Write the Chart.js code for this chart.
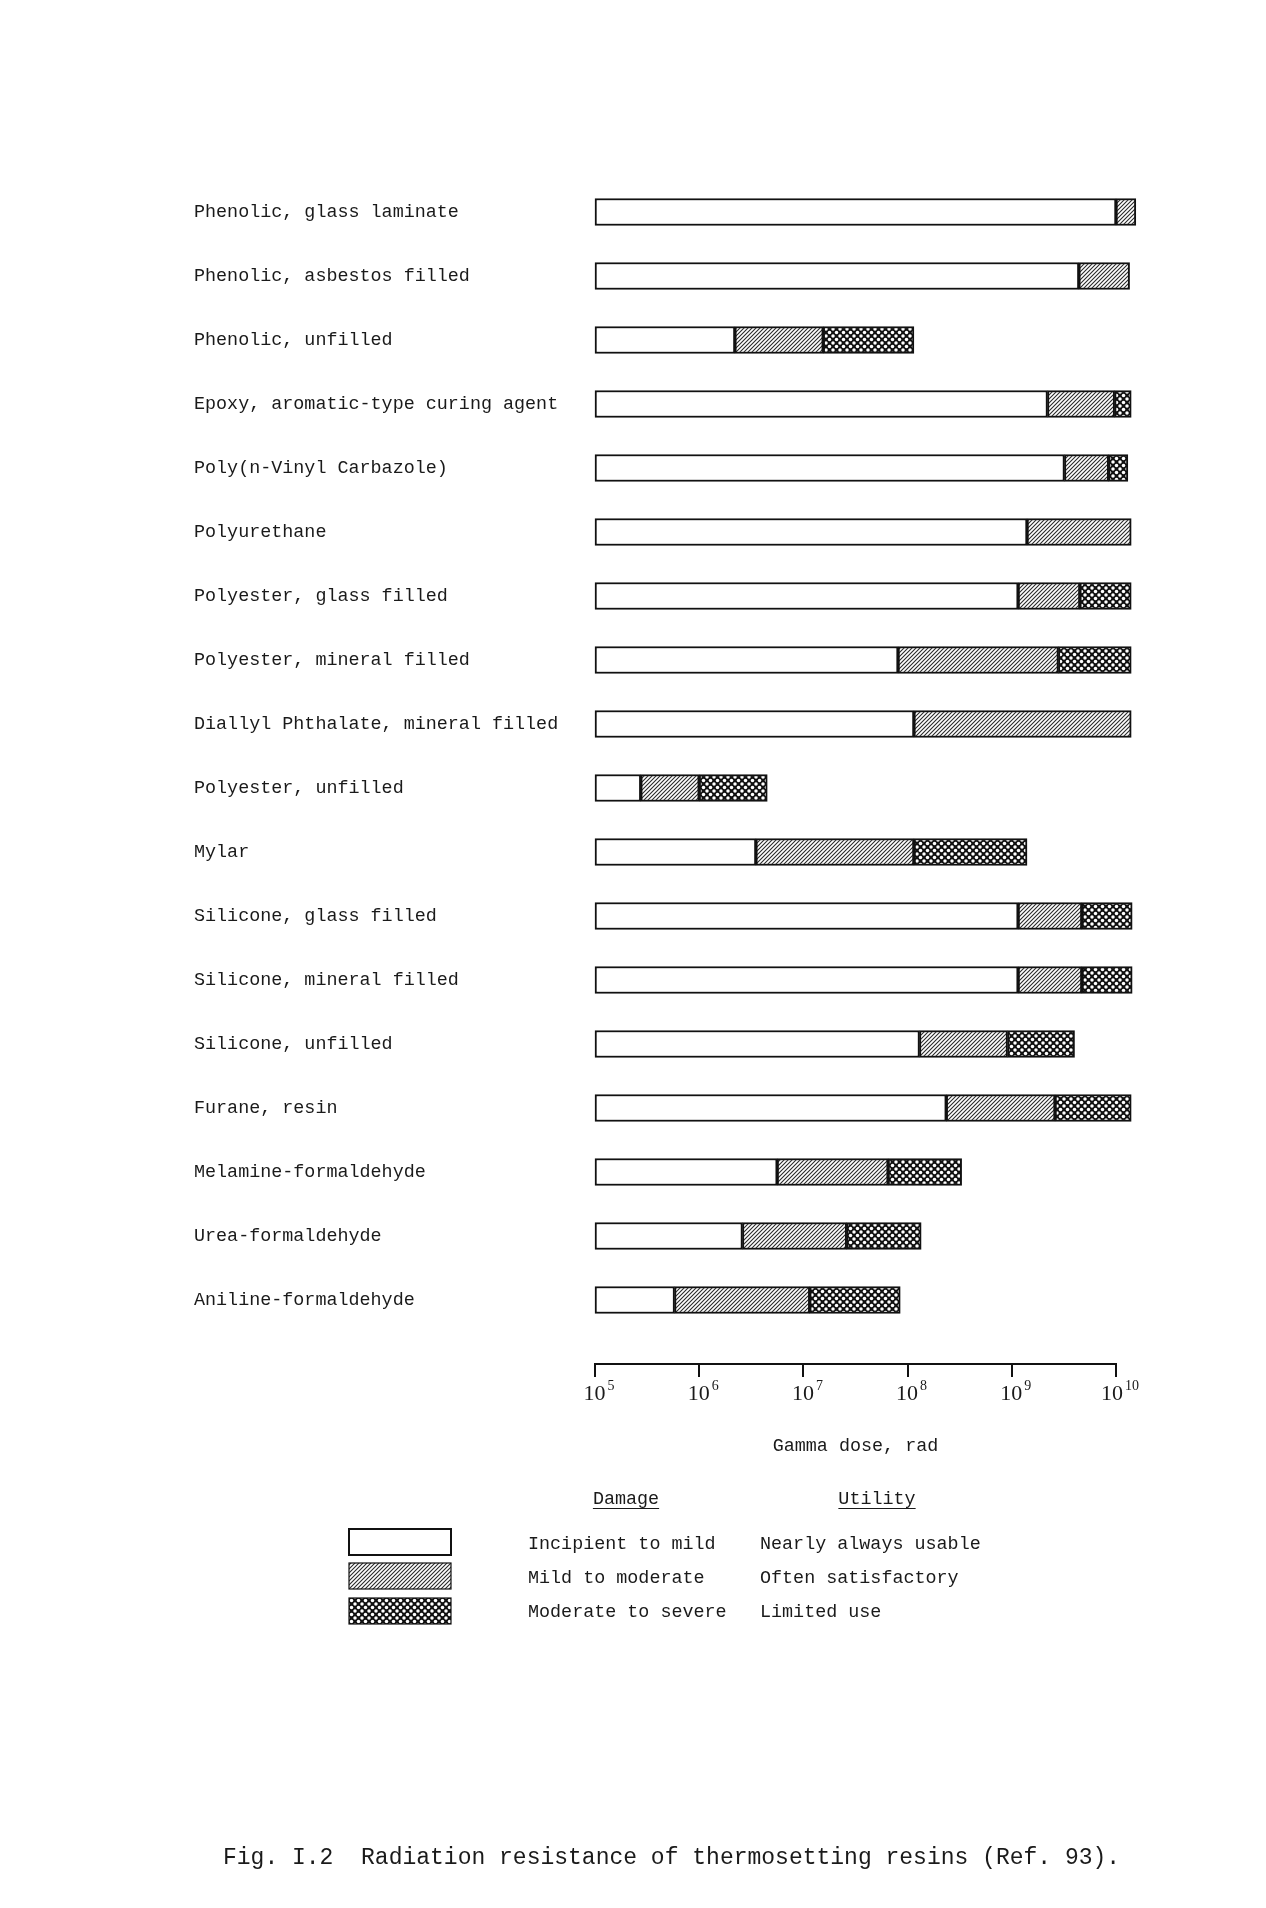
<!DOCTYPE html>
<html>
<head>
<meta charset="utf-8">
<script src="https://cdn.jsdelivr.net/npm/chart.js@4.4.1/dist/chart.umd.min.js"></script>
<style>
  body { margin: 0; background: #fff; }
  #wrap { position: relative; width: 1266px; height: 1908px; }
  #chart { position: absolute; left: 0; top: 0; }
  .txt { position: absolute; font-family: "Liberation Mono", monospace; font-size: 18.4px; color: #1a1a1a; line-height: 20px; white-space: pre; }
  .head { text-decoration: underline; text-underline-offset: 4px; transform: translateX(-50%); }
  .sw { position: absolute; }
  #caption { position: absolute; left: 223px; top: 1845px; font-family: "Liberation Mono", monospace; font-size: 23px; color: #1a1a1a; white-space: pre; }
</style>
</head>
<body>
<div id="wrap">
  <canvas id="chart" width="1266" height="1908"></canvas>

  <canvas class="sw" id="sw0" width="104" height="28" style="left:348px;top:1528px"></canvas>
  <canvas class="sw" id="sw1" width="104" height="28" style="left:348px;top:1562px"></canvas>
  <canvas class="sw" id="sw2" width="104" height="28" style="left:348px;top:1597px"></canvas>

  <div class="txt head" style="left:626px;top:1490px">Damage</div>
  <div class="txt head" style="left:877px;top:1490px">Utility</div>
  <div class="txt" style="left:528px;top:1535px">Incipient to mild</div>
  <div class="txt" style="left:528px;top:1569px">Mild to moderate</div>
  <div class="txt" style="left:528px;top:1603px">Moderate to severe</div>
  <div class="txt" style="left:760px;top:1535px">Nearly always usable</div>
  <div class="txt" style="left:760px;top:1569px">Often satisfactory</div>
  <div class="txt" style="left:760px;top:1603px">Limited use</div>

  <div id="caption">Fig. I.2  Radiation resistance of thermosetting resins (Ref. 93).</div>
</div>

<script>
// materials, top to bottom
const materials = [
    'Phenolic, glass laminate',
    'Phenolic, asbestos filled',
    'Phenolic, unfilled',
    'Epoxy, aromatic-type curing agent',
    'Poly(n-Vinyl Carbazole)',
    'Polyurethane',
    'Polyester, glass filled',
    'Polyester, mineral filled',
    'Diallyl Phthalate, mineral filled',
    'Polyester, unfilled',
    'Mylar',
    'Silicone, glass filled',
    'Silicone, mineral filled',
    'Silicone, unfilled',
    'Furane, resin',
    'Melamine-formaldehyde',
    'Urea-formaldehyde',
    'Aniline-formaldehyde'
];

// gamma dose in rad where each damage band ends
const doseStart = 1e5;
const mildEnd     = [1.0e10, 4.4e9, 2.2e6, 2.2e9, 3.2e9, 1.4e9, 1.15e9, 8.1e7, 1.15e8, 2.75e5, 3.5e6, 1.15e9, 1.15e9, 1.3e8, 2.35e8, 5.6e6, 2.6e6, 5.8e5];
const moderateEnd = [1.55e10, 1.35e10, 1.55e7, 9.7e9, 8.5e9, 1.4e10, 4.5e9, 2.8e9, 1.4e10, 1.0e6, 1.15e8, 4.7e9, 4.7e9, 9.1e8, 2.6e9, 6.5e7, 2.6e7, 1.15e7];
const severeEnd   = [null, null, 1.15e8, 1.4e10, 1.3e10, null, 1.4e10, 1.4e10, null, 4.5e6, 1.4e9, 1.43e10, 1.43e10, 4.0e9, 1.4e10, 3.3e8, 1.35e8, 8.5e7];

const decadeTicks = [1e5, 1e6, 1e7, 1e8, 1e9, 1e10];

function hatchPattern(ctx) {
    let c = document.createElement('canvas');
    c.width = 4; c.height = 4;
    let g = c.getContext('2d');
    g.fillStyle = '#fff';
    g.fillRect(0, 0, 4, 4);
    g.strokeStyle = '#2a2a2a';
    g.lineWidth = 1.1;
    g.beginPath();
    g.moveTo(0, 4); g.lineTo(4, 0);
    g.moveTo(-1, 1); g.lineTo(1, -1);
    g.moveTo(3, 5); g.lineTo(5, 3);
    g.stroke();
    return ctx.createPattern(c, 'repeat');
}

function crossPattern(ctx) {
    let c = document.createElement('canvas');
    c.width = 7; c.height = 7;
    let g = c.getContext('2d');
    g.fillStyle = '#111';
    g.fillRect(0, 0, 7, 7);
    g.fillStyle = '#fff';
    [[0, 0], [7, 0], [3.5, 3.5], [0, 7], [7, 7]].forEach(p => {
        g.beginPath();
        g.arc(p[0], p[1], 1.75, 0, Math.PI * 2);
        g.fill();
    });
    return ctx.createPattern(c, 'repeat');
}

let ctx = document.getElementById('chart').getContext('2d');
const fills = ['#fff', hatchPattern(ctx), crossPattern(ctx)];

// legend swatches
for (let k = 0; k < 3; k++) {
    let s = document.getElementById('sw' + k).getContext('2d');
    s.fillStyle = k === 0 ? '#fff' : (k === 1 ? hatchPattern(s) : crossPattern(s));
    s.fillRect(1, 1, 102, 26);
    s.strokeStyle = '#111';
    s.lineWidth = k === 0 ? 2 : 1.2;
    s.strokeRect(1, 1, 102, 26);
}

// "10" with a raised exponent under each decade tick
const exponentLabels = {
    id: 'exponentLabels',
    afterDraw(chart) {
        let sc = chart.scales.x;
        let c = chart.ctx;
        c.save();
        c.fillStyle = '#1a1a1a';
        c.textBaseline = 'middle';
        c.textAlign = 'left';
        sc.ticks.forEach(t => {
            let px = sc.getPixelForValue(t.value);
            let ex = String(Math.round(Math.log10(t.value)));
            c.font = '22px "Liberation Serif"';
            let w1 = c.measureText('10').width;
            c.font = '14px "Liberation Serif"';
            let w2 = c.measureText(ex).width;
            let x0 = px - (w1 + w2) / 2 + 3;
            let y = sc.top + 30;
            c.font = '22px "Liberation Serif"';
            c.fillText('10', x0, y);
            c.font = '14px "Liberation Serif"';
            c.fillText(ex, x0 + w1 + 2, y - 8);
        });
        c.restore();
    }
};

function band(ends, starts) {
    let out = [];
    materials.forEach((m, i) => {
        if (ends[i] !== null) out.push({y: i, x: [starts[i], ends[i]]});
    });
    return out;
}

const barStyle = {
    borderColor: '#111',
    borderWidth: 2,
    borderSkipped: false,
    barThickness: 27,
    grouped: false,
    clip: false
};

let wykres = new Chart(ctx, {
    type: 'bar',
    data: {
        datasets: [
            Object.assign({label: 'Incipient to mild', data: band(mildEnd, materials.map(() => doseStart)), backgroundColor: fills[0]}, barStyle),
            Object.assign({label: 'Mild to moderate', data: band(moderateEnd, mildEnd), backgroundColor: fills[1]}, barStyle),
            Object.assign({label: 'Moderate to severe', data: band(severeEnd, moderateEnd), backgroundColor: fills[2]}, barStyle)
        ]
    },
    options: {
        indexAxis: 'y',
        responsive: false,
        animation: false,
        layout: { padding: {left: 194, right: 150, top: 180, bottom: 451} },
        plugins: { legend: {display: false}, tooltip: {enabled: false} },
        scales: {
            x: {
                type: 'logarithmic',
                position: 'bottom',
                min: 1e5,
                max: 1e10,
                bounds: 'data',
                offset: false,
                afterBuildTicks: sc => { sc.ticks = decadeTicks.map(v => ({value: v, major: true})); },
                afterFit: sc => { sc.height = 93; },
                ticks: { display: false },
                grid: { drawOnChartArea: false, drawTicks: true, tickLength: 13, color: '#111', lineWidth: 2 },
                border: { display: true, color: '#111', width: 2 },
                title: {
                    display: true,
                    text: 'Gamma dose, rad',
                    color: '#1a1a1a',
                    padding: 0,
                    font: {family: '"Liberation Mono", monospace', size: 18.4}
                }
            },
            y: {
                type: 'linear',
                reverse: true,
                min: -0.5,
                max: 18,
                bounds: 'data',
                offset: false,
                afterBuildTicks: sc => { sc.ticks = materials.map((m, i) => ({value: i})); },
                afterFit: sc => { sc.width = 401; },
                ticks: {
                    crossAlign: 'far',
                    padding: 0,
                    color: '#1a1a1a',
                    font: {family: '"Liberation Mono", monospace', size: 18.4},
                    callback: v => materials[v]
                },
                grid: { display: false },
                border: { display: false }
            }
        }
    },
    plugins: [exponentLabels]
});
</script>
</body>
</html>
